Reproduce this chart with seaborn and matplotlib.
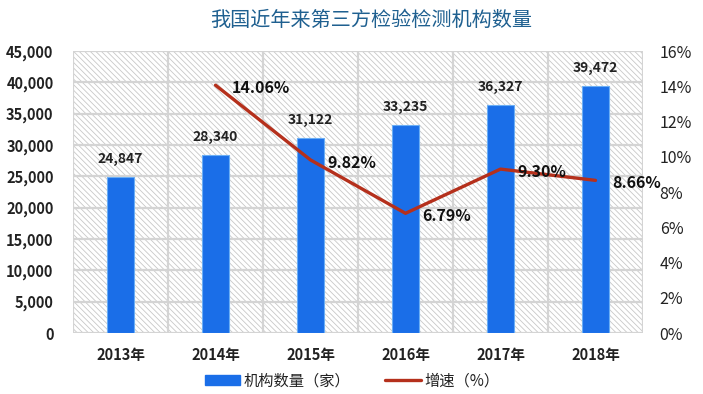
import matplotlib
matplotlib.use("Agg")
import matplotlib.pyplot as plt
import seaborn as sns
import pandas as pd
import numpy as np
from matplotlib.patches import Rectangle, Patch
from matplotlib.lines import Line2D
from matplotlib.ticker import FuncFormatter, MultipleLocator

years = ["2013年", "2014年", "2015年", "2016年", "2017年", "2018年"]
counts = [24847, 28340, 31122, 33235, 36327, 39472]
growth_years = ["2014年", "2015年", "2016年", "2017年", "2018年"]
growth = [14.06, 9.82, 6.79, 9.30, 8.66]
title = "我国近年来第三方检验检测机构数量"
bar_label = "机构数量（家）"
line_label = "增速（%）"

sns.set_theme(style="white")
plt.rcParams['font.family'] = ['Noto Sans CJK SC', 'DejaVu Sans']
plt.rcParams['hatch.linewidth'] = 0.6
plt.rcParams['hatch.color'] = '#c8c8c8'

fig = plt.figure(figsize=(7.03, 3.94), dpi=100)
ax = fig.add_axes([73/703, 1-333/394, 570/703, 282/394])

df = pd.DataFrame({"year": years, "count": counts})
bar_color = '#1a6ee8'
sns.barplot(data=df, x="year", y="count", ax=ax, color=bar_color, width=0.29,
            saturation=1, edgecolor='#6aaef5', linewidth=0.8, zorder=3)

ax.set_ylim(0, 45000)
ax.set_xlim(-0.5, len(years) - 0.5)
ax.yaxis.set_major_locator(MultipleLocator(5000))
ax.yaxis.set_major_formatter(FuncFormatter(lambda v, p: f"{int(v):,}"))
ax.set_xlabel("")
ax.set_ylabel("")

# hatched background
bg = Rectangle((0, 0), 1, 1, transform=ax.transAxes, facecolor='white',
               edgecolor='#c8c8c8', hatch='\\\\\\\\\\\\', linewidth=0, zorder=0)
ax.add_patch(bg)

# grid
ax.grid(False)
for v in np.arange(0, 45001, 5000):
    ax.axhline(v, color='#d4d4d4', lw=1.6, zorder=1)
for i in range(len(years) + 1):
    ax.axvline(i - 0.5, color='#d4d4d4', lw=1.6, zorder=1)
for s in ax.spines.values():
    s.set_visible(False)

ax.tick_params(axis='y', length=0, pad=14, labelsize=10.5, labelcolor='#222222')
ax.tick_params(axis='x', length=0, pad=10, labelsize=10.5, labelcolor='#222222')
for t in ax.get_yticklabels():
    t.set_fontweight('bold')
for t in ax.get_xticklabels():
    t.set_fontweight('bold')

for i, c in enumerate(counts):
    ax.annotate(f"{c:,}", (i, c), xytext=(0, 8), textcoords='offset points',
                ha='center', va='bottom', fontsize=10, fontweight='bold',
                color='#222222', zorder=5)

ax2 = ax.twinx()
ax2.set_ylim(0, 16)
ax2.yaxis.set_major_locator(MultipleLocator(2))
ax2.yaxis.set_major_formatter(FuncFormatter(lambda v, p: f"{int(v)}%"))
for s in ax2.spines.values():
    s.set_visible(False)
ax2.tick_params(axis='y', length=0, pad=12, labelsize=11.5, labelcolor='#222222')
ax2.grid(False)

gx = [years.index(y) for y in growth_years]
line_color = '#b5301c'
sns.lineplot(x=gx, y=growth, ax=ax2, color=line_color, lw=2.4, zorder=4)
ax2.set_xlim(-0.5, len(years) - 0.5)

for x, g in zip(gx, growth):
    ax2.annotate(f"{g:.2f}%", (x, g), xytext=(12, -2), textcoords='offset points',
                 ha='left', va='center', fontsize=11.5, fontweight='bold',
                 color='#111111', zorder=6)

fig.text(371/703, 1-20/394, title, ha='center', va='center', fontsize=14.5,
         color='#1f6090')

handles = [Patch(facecolor=bar_color, edgecolor=bar_color),
           Line2D([0], [0], color=line_color, lw=2.4)]
leg = fig.legend(handles, [bar_label, line_label], loc='center',
                 bbox_to_anchor=(352/703, 1-381/394), ncol=2, frameon=False,
                 handlelength=2.3, handleheight=0.55, columnspacing=2.3,
                 handletextpad=0.25, fontsize=11)
for t in leg.get_texts():
    t.set_color('#222222')

fig.savefig("out.png", dpi=100)
